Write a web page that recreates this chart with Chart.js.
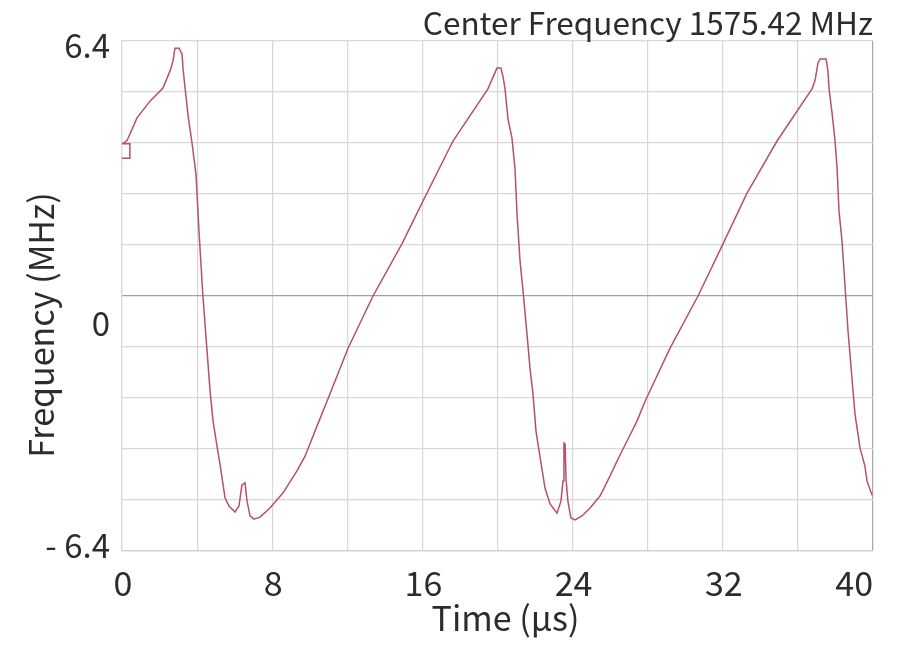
<!DOCTYPE html>
<html>
<head>
<meta charset="utf-8">
<title>Center Frequency 1575.42 MHz</title>
<script src="https://cdn.jsdelivr.net/npm/chart.js@4.4.1/dist/chart.umd.min.js"></script>
<style>
  html, body { margin: 0; padding: 0; background: #ffffff; }
  #wrap { width: 897px; height: 654px; }
</style>
</head>
<body>
<div id="wrap"><canvas id="chirp" width="897" height="654"></canvas></div>
<script>
// Frequency deviation trace (MHz) against time (µs)
const timeUs = [
  0, 0.42, 0.42, 0.02, 0.27, 0.8, 1.49, 2.18, 2.56, 2.72, 2.82, 3.04,
  3.2, 3.25, 3.36, 3.52, 3.73, 3.94, 4.1, 4.31, 4.53, 4.69, 4.85, 5.06,
  5.22, 5.49, 5.7, 6.02, 6.23, 6.39, 6.55, 6.66, 6.82, 7.03, 7.35, 7.88,
  8.58, 9.32, 9.75, 10.39, 10.92, 12.04, 13.37, 14.91, 16.03, 17.63, 19.49, 19.97,
  20.18, 20.29, 20.4, 20.56, 20.77, 20.93, 21.04, 21.2, 21.36, 21.57, 21.73, 21.89,
  22.05, 22.26, 22.53, 22.8, 23.17, 23.38, 23.49, 23.54, 23.6, 23.65, 23.75, 23.91,
  24.13, 24.5, 24.93, 25.46, 25.99, 26.42, 26.9, 27.43, 27.86, 29.19, 30.68, 32.01,
  33.29, 34.89, 36.75, 36.91, 37.07, 37.18, 37.5, 37.6, 37.66, 37.82, 37.98, 38.08,
  38.19, 38.35, 38.67, 39.04, 39.31, 39.57, 39.68, 39.95
];
const freqMHz = [
  3.46, 3.46, 3.82, 3.82, 3.9, 4.47, 4.89, 5.22, 5.65, 5.9, 6.22, 6.22,
  6.07, 5.7, 5.22, 4.52, 3.84, 3.06, 1.63, 0, -1.38, -2.38, -3.14, -3.77,
  -4.22, -5.07, -5.27, -5.42, -5.27, -4.74, -4.69, -5.15, -5.52, -5.6, -5.55, -5.32,
  -4.94, -4.39, -4.02, -3.26, -2.64, -1.31, 0, 1.31, 2.38, 3.89, 5.2, 5.72,
  5.72, 5.52, 5.2, 4.44, 3.97, 3.21, 2.06, 0.88, 0.13, -0.95, -1.81, -2.46,
  -3.39, -4.02, -4.82, -5.22, -5.45, -5.15, -4.64, -3.69, -3.71, -4.59, -5.15, -5.57,
  -5.62, -5.52, -5.32, -5.02, -4.52, -4.09, -3.64, -3.14, -2.64, -1.31, 0, 1.31,
  2.58, 3.89, 5.2, 5.4, 5.85, 5.95, 5.95, 5.65, 5.2, 4.59, 3.89, 3.26,
  2.13, 1.38, -0.88, -2.96, -3.82, -4.27, -4.64, -5.0
];

// Axis tick values and their printed labels
const xTickValues = [0, 8, 16, 24, 32, 40];
const xTickLabels = ['0', '8', '16', '24', '32', '40'];
const yTickValues = [6.4, 0, -6.4];
const yTickLabels = ['6.4', '0', '- 6.4'];

const titleText = 'Center Frequency 1575.42 MHz';
const xTitle = 'Time (µs)';
const yTitle = 'Frequency (MHz)';

const FONT = '"Noto Sans CJK JP", "Noto Sans", sans-serif';
const TEXT = '#2c2c2c';

const points = timeUs.map((t, i) => ({ x: t, y: freqMHz[i] }));

// Draws the white page, the tick labels, the axis titles and the header text
const textLayer = {
  id: 'textLayer',
  beforeDraw(chart) {
    const c = chart.ctx;
    c.save();
    c.fillStyle = '#ffffff';
    c.fillRect(0, 0, chart.width, chart.height);
    c.restore();
  },
  afterDraw(chart) {
    const c = chart.ctx;
    const xs = chart.scales.x, ys = chart.scales.y;
    const area = chart.chartArea;
    c.save();
    c.fillStyle = TEXT;

    // header, right aligned above the plot
    c.font = '31.5px ' + FONT;
    c.textAlign = 'right';
    c.textBaseline = 'middle';
    c.fillText(titleText, area.right, 23);

    // y tick labels
    c.font = '33px ' + FONT;
    c.textAlign = 'right';
    const yShift = { '6.4': 4, '0': 27, '-6.4': -6 };
    yTickValues.forEach((v, i) => {
      const py = ys.getPixelForValue(v) + (yShift[String(v)] || 0);
      c.fillText(yTickLabels[i], area.left - 12, py);
    });

    // x tick labels
    c.font = '34px ' + FONT;
    xTickValues.forEach((v, i) => {
      const px = xs.getPixelForValue(v);
      const last = i === xTickValues.length - 1;
      c.textAlign = last ? 'right' : 'center';
      c.fillText(xTickLabels[i], last ? px : px + 1, area.bottom + 32);
    });

    // axis titles
    c.font = '34px ' + FONT;
    c.textAlign = 'center';
    c.fillText(xTitle, (area.left + area.right) / 2 + 8, area.bottom + 67);

    c.translate(41, 325);
    c.rotate(-Math.PI / 2);
    c.fillText(yTitle, 0, 0);
    c.restore();
  }
};

new Chart(document.getElementById('chirp'), {
  type: 'line',
  data: {
    datasets: [{
      data: points,
      borderColor: '#b5516d',
      borderWidth: 1.5,
      pointRadius: 0,
      tension: 0,
      fill: false
    }]
  },
  options: {
    responsive: false,
    animation: false,
    layout: { padding: { left: 122, top: 41, right: 24, bottom: 103 } },
    plugins: { legend: { display: false }, tooltip: { enabled: false }, title: { display: false } },
    scales: {
      x: {
        type: 'linear',
        min: 0, max: 40,
        ticks: { display: false, stepSize: 4 },
        grid: {
          drawTicks: false,
          tickLength: 0,
          lineWidth: 1.2,
          color: ctx => (ctx.tick && ctx.tick.value === 40) ? '#a6a6a6' : '#d8d8d8'
        },
        border: { display: true, color: '#d0d0d0', width: 1.2 }
      },
      y: {
        type: 'linear',
        min: -6.4, max: 6.4,
        ticks: { display: false, stepSize: 1.28 },
        grid: {
          drawTicks: false,
          tickLength: 0,
          lineWidth: 1.2,
          color: ctx => (ctx.tick && Math.abs(ctx.tick.value) < 1e-9) ? '#a0a0a0' : '#d8d8d8'
        },
        border: { display: true, color: '#d8d8d8', width: 1.2 }
      }
    }
  },
  plugins: [textLayer]
});
</script>
</body>
</html>
